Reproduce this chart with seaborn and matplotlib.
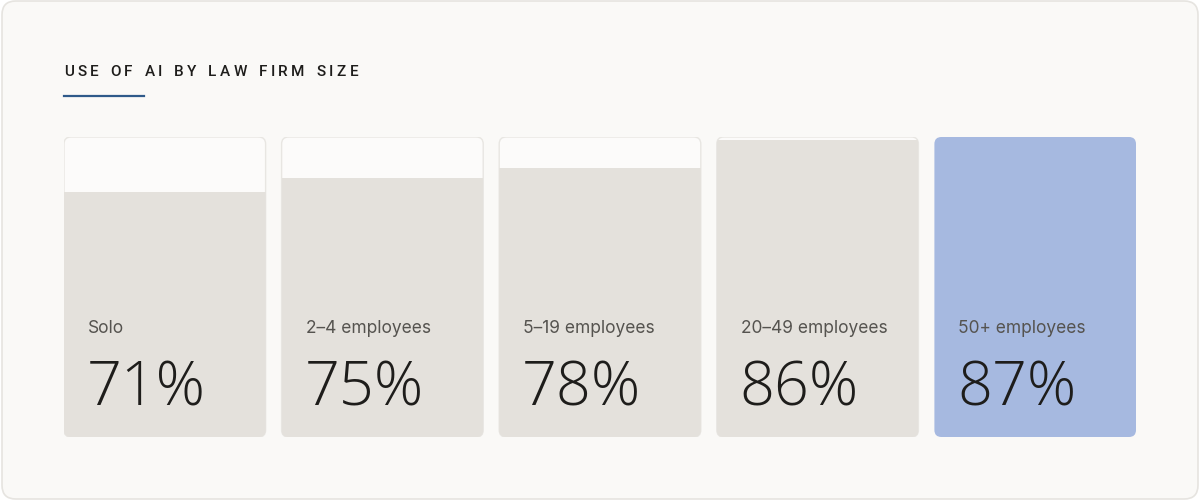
import matplotlib
matplotlib.use("Agg")
import matplotlib.pyplot as plt
import seaborn as sns
import pandas as pd
from matplotlib.patches import FancyBboxPatch
from matplotlib.transforms import offset_copy

# datos
categorias = ["Solo", "2–4 employees", "5–19 employees", "20–49 employees", "50+ employees"]
porcentajes = [71, 75, 78, 86, 87]
etiquetas = ["71%", "75%", "78%", "86%", "87%"]
titulo = "USE OF AI BY LAW FIRM SIZE"

df = pd.DataFrame({"categoria": categorias, "pct": porcentajes})
maximo = max(porcentajes)
df["tope"] = maximo

# colores
fondo_panel = "#FAF9F7"
fondo_card = "#FCFBFA"
borde_card = "#E8E6E2"
gris = "#E4E1DC"
azul = "#A6B9E0"
colores = [gris, gris, gris, gris, azul]

W, H = 1200, 502
fig = plt.figure(figsize=(W / 100, H / 100), dpi=100)
fig.patch.set_facecolor("white")

# panel exterior redondeado
panel = FancyBboxPatch((2 / W, 2 / H), 1196 / W, 498 / H,
                       boxstyle="round,pad=0,rounding_size=0.0115",
                       mutation_aspect=W / H,
                       transform=fig.transFigure, facecolor=fondo_panel,
                       edgecolor="#E6E4E0", linewidth=1.2, zorder=-5)
fig.patches.append(panel)

ax = fig.add_axes([64 / W, (H - 438) / H, 1072 / W, 300 / H])
ax.set_facecolor("none")
ax.set_zorder(2)

ancho = 0.9265
sns.barplot(data=df, x="categoria", y="tope", color=fondo_card, width=ancho,
            saturation=1, ax=ax, zorder=1)
n_cards = len(ax.patches)
sns.barplot(data=df, x="categoria", y="pct", hue="categoria", palette=colores,
            width=ancho, saturation=1, legend=False, ax=ax, zorder=2)

ax.set_xlim(-ancho / 2, len(categorias) - 1 + ancho / 2)
ax.set_ylim(0, maximo)
ax.axis("off")

# esquinas redondeadas: px por unidad
px_x = 1072 / (len(categorias) - 1 + ancho)
px_y = 300 / maximo
radio = 7 / px_x
aspecto = px_x / px_y

cards = list(ax.patches[:n_cards])
fills = list(ax.patches[n_cards:])
for i, (c, f) in enumerate(zip(cards, fills)):
    x0, y0 = c.get_x(), c.get_y()
    w, h = c.get_width(), c.get_height()
    c.set_visible(False)
    redondo = FancyBboxPatch((x0, y0), w, h,
                             boxstyle=f"round,pad=0,rounding_size={radio}",
                             mutation_aspect=aspecto, facecolor=fondo_card,
                             edgecolor=borde_card if i < 4 else "none",
                             linewidth=1.0, zorder=1)
    ax.add_patch(redondo)
    clip = FancyBboxPatch((x0, y0), w, h,
                          boxstyle=f"round,pad=0,rounding_size={radio}",
                          mutation_aspect=aspecto, transform=ax.transData,
                          facecolor="none", edgecolor="none")
    ax.add_patch(clip)
    clip.set_visible(False)
    f.set_linewidth(0)
    f.set_clip_path(clip)

    # textos
    izq = x0
    t_lab = offset_copy(ax.transData, fig=fig, x=24, y=105, units="dots")
    ax.text(izq, 0, categorias[i], transform=t_lab, fontsize=12.5,
            family=["Inter", "DejaVu Sans"], color="#55534F",
            ha="left", va="baseline", zorder=3)
    t_num = offset_copy(ax.transData, fig=fig, x=23, y=32, units="dots")
    ax.text(izq, 0, etiquetas[i], transform=t_num, fontsize=44,
            family=["Open Sans", "DejaVu Sans"], fontweight="light",
            color="#1E1D1B", ha="left", va="baseline", zorder=3)

# titulo con espaciado entre letras
fig.canvas.draw()
renderer = fig.canvas.get_renderer()
x_px = 64
for ch in titulo:
    t = fig.text(x_px / W, (H - 76) / H, ch, fontsize=11,
                 family=["Roboto", "DejaVu Sans"], fontweight="medium",
                 color="#1E1D1B", ha="left", va="baseline")
    if ch == " ":
        ancho_px = 5
    else:
        ancho_px = t.get_window_extent(renderer).width
    x_px += ancho_px + 3.4

fig.add_artist(plt.Line2D([64 / W, 144 / W], [(H - 97) / H, (H - 97) / H],
                          color="#2F5A8A", linewidth=1.6,
                          transform=fig.transFigure))

fig.savefig("out.png", dpi=100, facecolor=fig.get_facecolor())
